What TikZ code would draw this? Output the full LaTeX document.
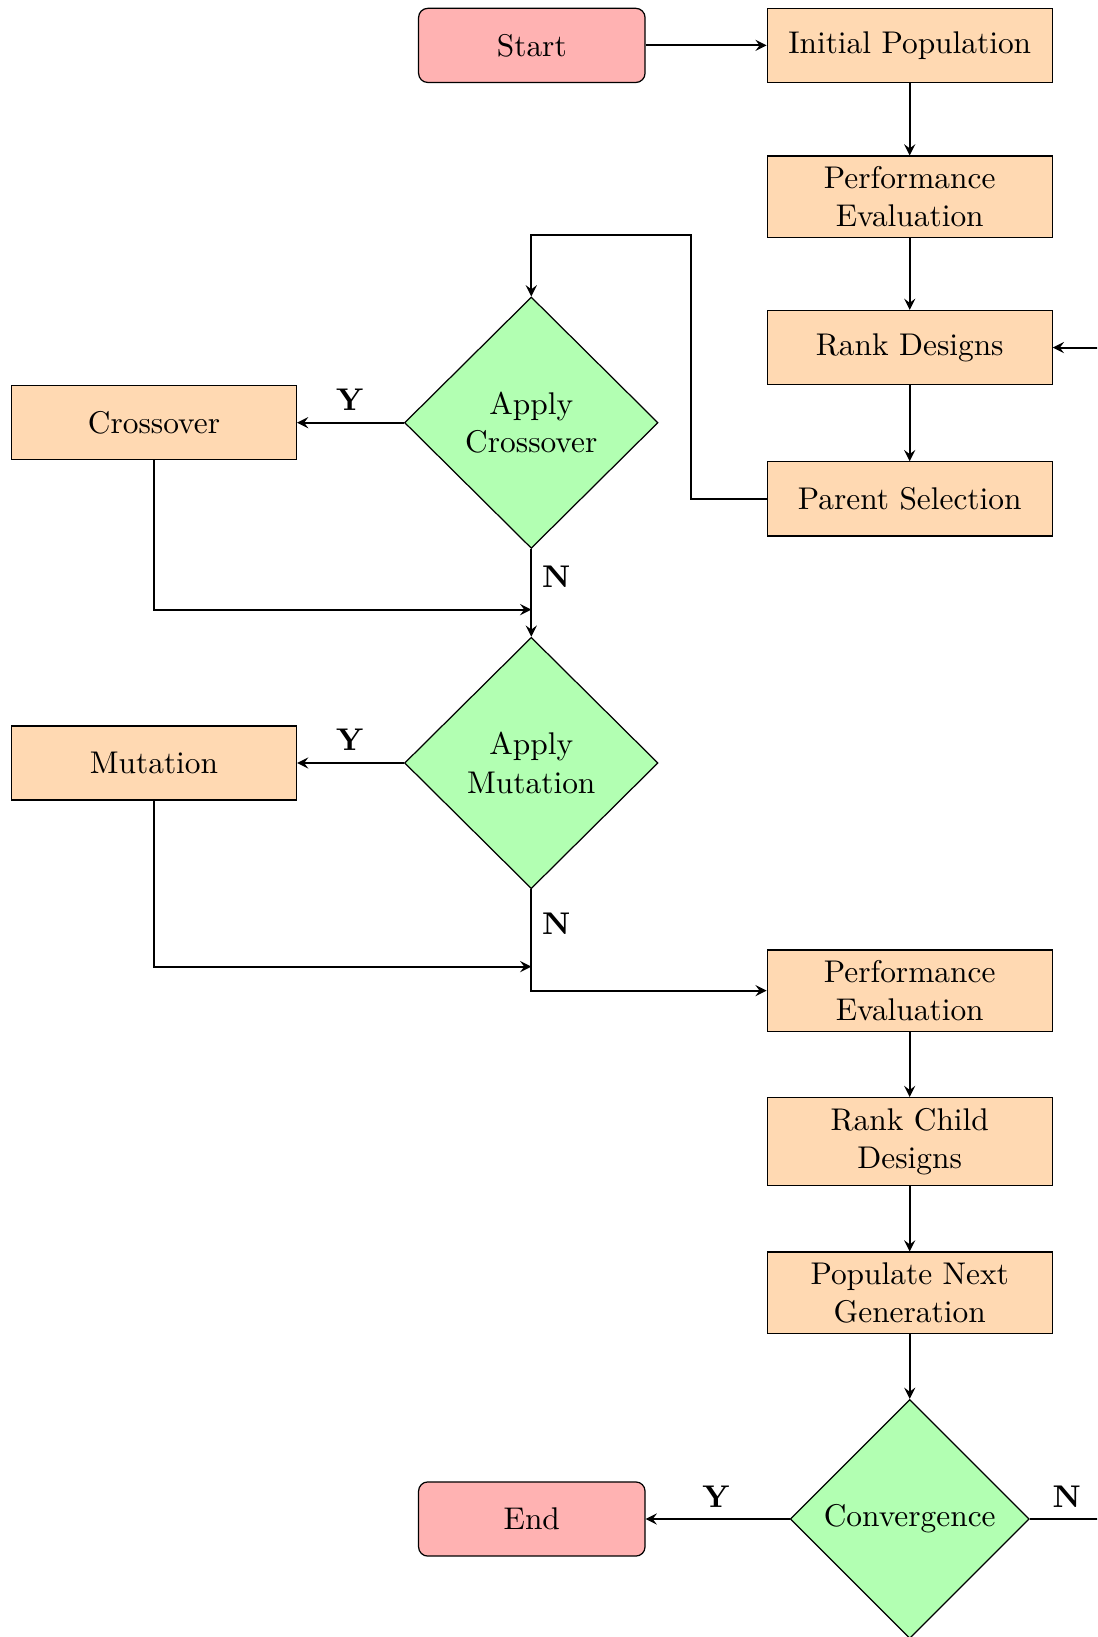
\documentclass[tikz,border=0pt]{standalone}
\usetikzlibrary{shapes.geometric,arrows}
\begin{document}
\begin{tikzpicture}[x=0.325pt,y=-0.325pt,
  every node/.style={font=\fontsize{10.2}{12.5}\selectfont},
  termbox/.style={draw,thin,fill=red!30,rounded corners=3pt,minimum width=73.6pt,minimum height=24.1pt,align=center},
  procbox/.style={draw,thin,fill=orange!30,minimum width=92.6pt,minimum height=24.1pt,align=center},
  decbox/.style={draw,thin,fill=green!30,diamond,minimum width=82.4pt,minimum height=81.7pt,inner sep=0pt,align=center},
  convbox/.style={draw,thin,fill=green!30,diamond,minimum width=77.7pt,minimum height=77.7pt,inner sep=0pt,align=center},
  conn/.style={semithick,->,>=stealth},
  lab/.style={font=\fontsize{10.2}{12.5}\selectfont\bfseries}]
\useasboundingbox (0,0) rectangle (1097,1637);
\clip (0,0) rectangle (1097,1637);
\node[termbox] (start) at (531.8,45.4) {Start};
\node[procbox] (init) at (909.7,45.4) {Initial Population};
\node[procbox] (pe1) at (909.7,196.8) {Performance\\Evaluation};
\node[procbox] (rank) at (909.7,347.6) {Rank Designs};
\node[procbox] (parent) at (909.7,498.9) {Parent Selection};
\node[decbox] (crossd) at (531.3,422.7) {Apply\\Crossover};
\node[procbox] (cross) at (154,422.7) {Crossover};
\node[decbox] (mutd) at (531.3,763) {Apply\\Mutation};
\node[procbox] (mut) at (154,763) {Mutation};
\node[procbox] (pe2) at (909.7,990.6) {Performance\\Evaluation};
\node[procbox] (rankc) at (909.7,1141.4) {Rank Child\\Designs};
\node[procbox] (pop) at (909.7,1292.8) {Populate Next\\Generation};
\node[convbox] (conv) at (909.7,1519) {Convergence};
\node[termbox] (end) at (531.8,1519) {End};
\coordinate (loopc) at (691,234.9);
\coordinate (join1) at (531.3,609.6);
\coordinate (join2) at (531.3,966.6);
\coordinate (back) at (1130,1519);
\draw[conn] (start) -- (init);
\draw[conn] (init) -- (pe1);
\draw[conn] (pe1) -- (rank);
\draw[conn] (rank) -- (parent);
\draw[conn] (parent.west) -| (loopc) -| (crossd.north);
\draw[conn] (crossd.west) -- (cross.east);
\draw[conn] (cross.south) |- (join1);
\draw[conn] (crossd.south) -- (mutd.north);
\draw[conn] (mutd.west) -- (mut.east);
\draw[conn] (mut.south) |- (join2);
\draw[conn] (mutd.south) |- (pe2.west);
\draw[conn] (pe2) -- (rankc);
\draw[conn] (rankc) -- (pop);
\draw[conn] (pop) -- (conv);
\draw[conn] (conv.west) -- (end.east);
\draw[conn] (conv.east) -- (back) |- (rank.east);
\node[lab] (y1) at (349.7,399.8) {Y};
\node[lab] (n1) at (556.3,577.2) {N};
\node[lab] (y2) at (349.7,740) {Y};
\node[lab] (n2) at (556.3,923.8) {N};
\node[lab] (y3) at (716,1496.8) {Y};
\node[lab] (n3) at (1066.8,1496.8) {N};
\end{tikzpicture}
\end{document}
